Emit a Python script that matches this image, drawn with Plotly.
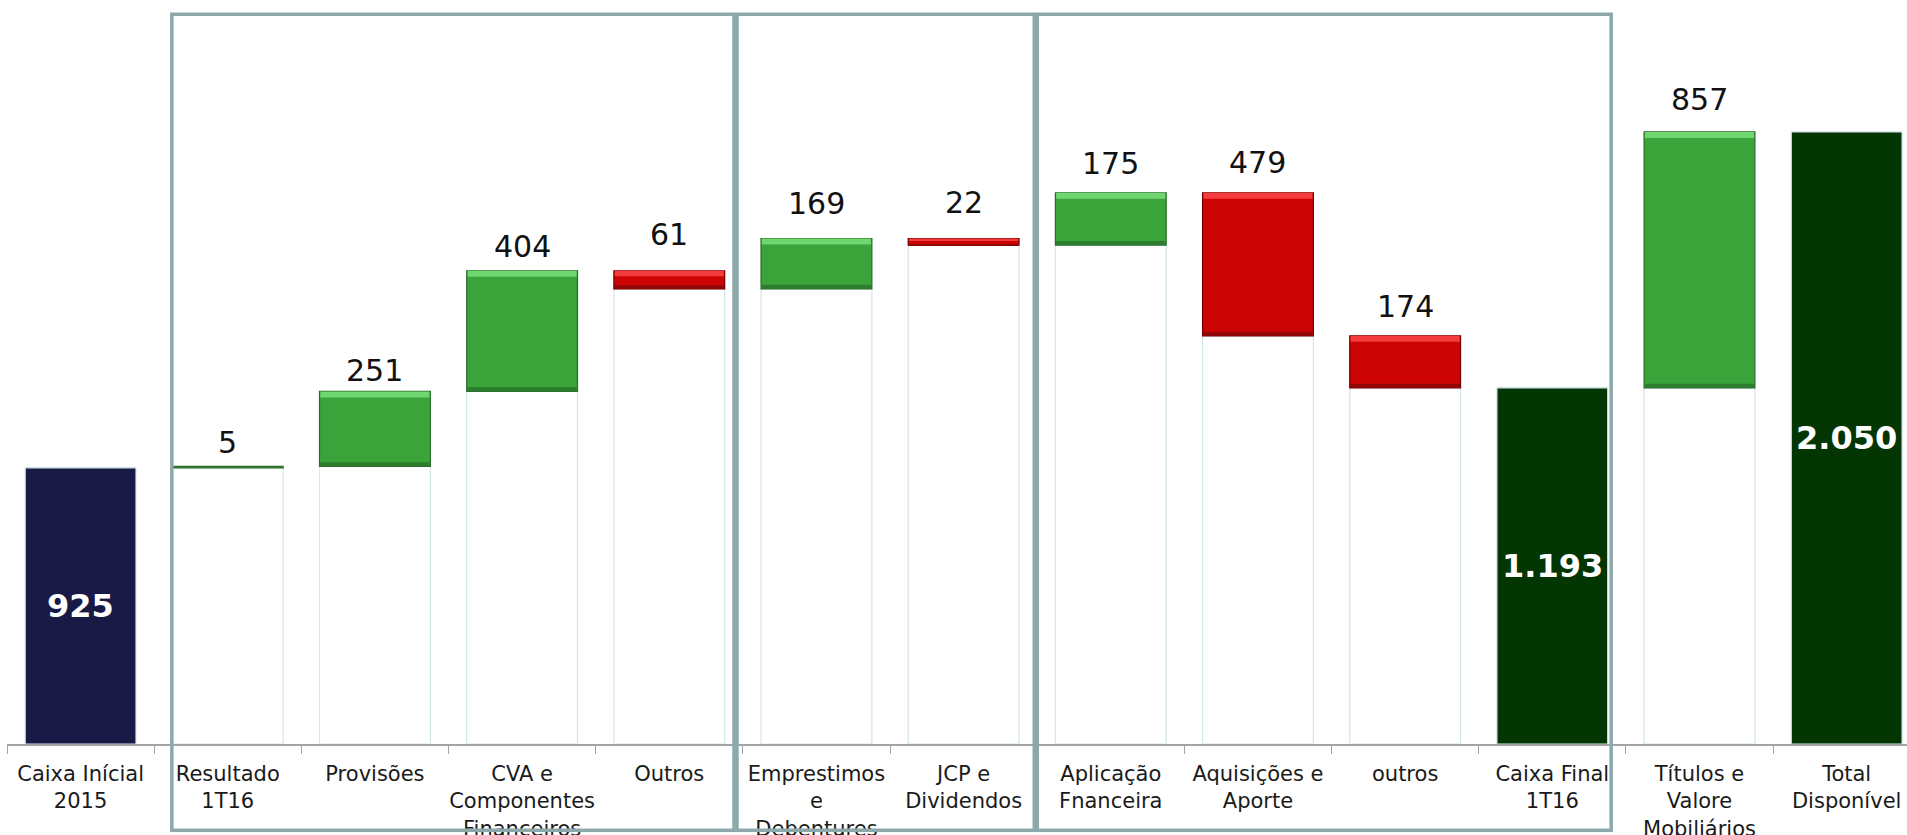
import plotly.graph_objects as go

# data (R$ milhões)
categories = [
    "Caixa Inícial<br>2015", "Resultado<br>1T16", "Provisões",
    "CVA e<br>Componentes<br>Financeiros", "Outros", "Emprestimos<br>e<br>Debentures",
    "JCP e<br>Dividendos", "Aplicação<br>Fnanceira", "Aquisições e<br>Aporte", "outros",
    "Caixa Final<br>1T16", "Títulos e<br>Valore<br>Mobiliários", "Total<br>Disponível",
]
values = [925, 5, 251, 404, -61, 169, -22, 175, -479, -174, 1193, 857, 2050]
measures = ["total", "step", "step", "step", "step", "step", "step", "step", "step", "step",
            "total", "step", "total"]
total_colors = ["#191946", "#033603", "#033603"]

# group frames (in category units)
box_x0 = [0.62, 4.46, 6.50]
box_x1 = [4.44, 6.48, 10.40]
# pixel lift of each step label above its bar (as laid out in the original)
label_lift = [4, 1, 5, 17, 16, 17, 10, 11, 10, 13]

GREEN = ("#3aa33a", "#70d670", "#2c7d2e", "#2a6a2a")
RED = ("#cc0404", "#f53c3c", "#930606", "#6e0000")
GHOST = "#d4e6ea"
BAR_W = 0.753


def fmt(v):
    return f"{v:,}".replace(",", ".")


# running levels of the waterfall
level = 0
bottoms, heights = [], []
for v, m in zip(values, measures):
    if m == "total":
        bottoms.append(0)
        heights.append(v)
        level = v
    else:
        new = level + v
        bottoms.append(min(level, new))
        heights.append(abs(v))
        level = new

step_idx = [i for i, m in enumerate(measures) if m == "step"]
total_idx = [i for i, m in enumerate(measures) if m == "total"]
x_cat = categories

fig = go.Figure()

# pale outline under each floating bar
fig.add_trace(go.Bar(
    x=[x_cat[i] for i in step_idx], y=[bottoms[i] for i in step_idx],
    marker=dict(color="rgba(255,255,255,0)", line=dict(color=GHOST, width=1.2)),
    width=BAR_W, hoverinfo="skip",
))

# totals
fig.add_trace(go.Bar(
    x=[x_cat[i] for i in total_idx], y=[heights[i] for i in total_idx],
    marker=dict(color=total_colors, line=dict(color=GHOST, width=1.2)),
    width=BAR_W, hoverinfo="skip",
))

# changes
pal = [GREEN if values[i] > 0 else RED for i in step_idx]
fig.add_trace(go.Bar(
    x=[x_cat[i] for i in step_idx], y=[heights[i] for i in step_idx],
    base=[bottoms[i] for i in step_idx],
    marker=dict(color=[p[0] for p in pal], line=dict(color=[p[3] for p in pal], width=1.2)),
    width=BAR_W, hoverinfo="skip",
))

# bevel: light strip on top, dark strip at the bottom
bev_idx = [i for i in step_idx if heights[i] >= 15]
bev = [min(20, heights[i] * 0.3) for i in bev_idx]
bev_pal = [GREEN if values[i] > 0 else RED for i in bev_idx]
fig.add_trace(go.Bar(
    x=[x_cat[i] for i in bev_idx], y=bev,
    base=[bottoms[i] + heights[i] - b for i, b in zip(bev_idx, bev)],
    marker=dict(color=[p[1] for p in bev_pal], line=dict(width=0)),
    width=BAR_W * 0.985, hoverinfo="skip",
))
fig.add_trace(go.Bar(
    x=[x_cat[i] for i in bev_idx], y=[b * 0.7 for b in bev],
    base=[bottoms[i] for i in bev_idx],
    marker=dict(color=[p[2] for p in bev_pal], line=dict(width=0)),
    width=BAR_W * 0.985, hoverinfo="skip",
))

# value labels
for k, i in enumerate(step_idx):
    fig.add_annotation(
        x=x_cat[i], y=bottoms[i] + heights[i], text=fmt(abs(values[i])),
        showarrow=False, yanchor="bottom", yshift=label_lift[k],
        font=dict(family="DejaVu Sans", size=30, color="#111111"),
    )
for i in total_idx:
    fig.add_annotation(
        x=x_cat[i], y=heights[i] / 2, text=f"<b>{fmt(values[i])}</b>",
        showarrow=False, yanchor="middle",
        font=dict(family="DejaVu Sans", size=32, color="white"),
    )

for a, b in zip(box_x0, box_x1):
    fig.add_shape(
        type="rect", xref="x", yref="paper", x0=a, x1=b, y0=-0.116, y1=0.981,
        line=dict(color="#8da8aa", width=3.5), fillcolor="rgba(0,0,0,0)", layer="above",
    )

fig.update_layout(
    width=1907, height=835,
    margin=dict(l=7, r=0, t=0, b=91),
    paper_bgcolor="white", plot_bgcolor="white",
    barmode="overlay", showlegend=False,
    font=dict(family="DejaVu Sans", color="#1a1a1a"),
)
fig.update_xaxes(
    categoryorder="array", categoryarray=categories,
    range=[-0.5, 12.41], showgrid=False, zeroline=False, automargin=False,
    showline=True, linecolor="#a3a3a3", linewidth=1.5, tickangle=0,
    ticks="outside", tickson="boundaries", ticklen=8, tickcolor="#a3a3a3",
    ticklabelstandoff=10,
    tickfont=dict(family="DejaVu Sans", size=21, color="#1a1a1a"),
)
fig.update_yaxes(range=[0, 2492], visible=False, showgrid=False, zeroline=False,
                 automargin=False)

fig.write_html(
    "out.html",
    config={"displayModeBar": False},
    post_script="document.body.style.margin='0';document.body.style.overflow='hidden';",
)
